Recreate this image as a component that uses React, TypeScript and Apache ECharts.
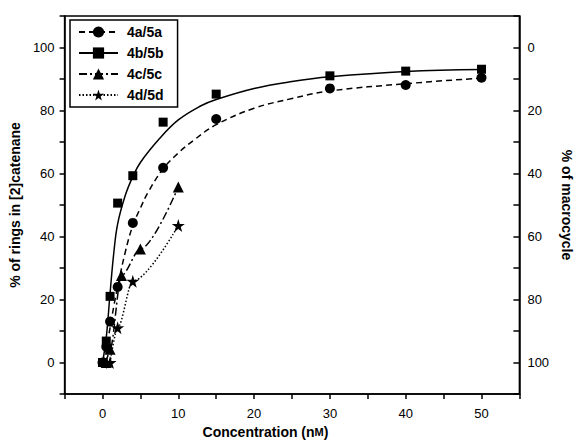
import React, { useEffect, useRef } from "react";
import * as echarts from "echarts";

// Measured points (concentration nM, % of rings in [2]catenane)
const conc4a = [0, 0.5, 1, 2, 4, 8, 15, 30, 40, 50];
const pct4a = [0, 5, 13, 24, 44.3, 61.8, 77.3, 87, 88.1, 90.4];
const conc4b = [0, 0.5, 1, 2, 4, 8, 15, 30, 40, 50];
const pct4b = [0, 6.8, 21, 50.6, 59.3, 76.3, 85.2, 91, 92.5, 93.1];
const conc4c = [0.5, 1, 2.5, 5, 10];
const pct4c = [0, 4.2, 27.6, 36, 55.7];
const conc4d = [1, 2, 4, 10];
const pct4d = [0, 11, 25.8, 43.5];

// Fitted curves
const fitConc4a = [0, 0.5, 1, 1.5, 2, 3, 4, 5, 6, 8, 10, 12, 15, 20, 25, 30, 40, 50];
const fitPct4a = [0, 5, 11, 18, 24, 35, 43.5, 49, 54, 61.5, 66.5, 70.5, 75.5, 80.7, 83.8, 86.2, 88.5, 90.3];
const fitConc4b = [0, 0.5, 1, 1.5, 2, 3, 4, 5, 7.5, 10, 13, 15, 20, 25, 30, 40, 50];
const fitPct4b = [0, 8, 22, 35, 44, 53, 59, 63.5, 71, 77, 81.5, 83.5, 87, 89.2, 90.7, 92.4, 93];

const seriesNames = ["4a/5a", "4b/5b", "4c/5c", "4d/5d"];
const xTitle = "Concentration (n{sc|M})";
const yLeftTitle = "% of rings in [2]catenane";
const yRightTitle = "% of macrocycle";

const STAR = "path://M50,0 L61,35 L98,35 L68,57 L79,91 L50,70 L21,91 L32,57 L2,35 L39,35 Z";
const FONT = "'Liberation Sans', Arial, sans-serif";

const pts = (xs: number[], ys: number[]) => xs.map((x, i) => [x, ys[i]]);

export default function App() {
  const ref = useRef<HTMLDivElement>(null);
  useEffect(() => {
    const chart = echarts.init(ref.current!, null, { renderer: "svg" });
    const black = "#000";
    const axisCommon = {
      type: "value" as const,
      splitLine: { show: false },
      axisLine: { show: true, onZero: false, lineStyle: { color: black, width: 1.5 } },
      axisTick: { show: true, length: 5, lineStyle: { color: black, width: 1.5 } },
    };
    const yFormatter = (v: number) => (v % 20 === 0 && v >= 0 && v <= 100 ? String(v) : "");
    const mark = { color: black, opacity: 1 };
    chart.setOption({
      animation: false,
      backgroundColor: "#fff",
      textStyle: { fontFamily: FONT },
      grid: {
        left: 63, right: 48, top: 16, bottom: 50,
        show: true, borderColor: black, borderWidth: 1.5, backgroundColor: "transparent",
      },
      legend: {
        data: seriesNames,
        orient: "vertical",
        left: 70,
        top: 20,
        padding: [5, 14, 5, 8],
        itemGap: 7,
        itemWidth: 39,
        itemHeight: 14,
        borderColor: black,
        borderWidth: 1.5,
        backgroundColor: "#fff",
        textStyle: { fontFamily: FONT, fontSize: 14, fontWeight: "bold", color: black, padding: [0, 0, 0, 4] },
      },
      xAxis: {
        ...axisCommon,
        min: -5, max: 55, interval: 5,
        position: "bottom",
        axisLabel: {
          formatter: (v: number) => (v % 10 === 0 ? String(v) : ""),
          margin: 13, fontSize: 13, color: black, fontFamily: FONT,
        },
        name: xTitle,
        nameLocation: "middle",
        nameGap: 27,
        nameTextStyle: {
          fontFamily: FONT, fontSize: 14, fontWeight: "bold", color: black,
          padding: [0, 53, 0, 0],
          rich: { sc: { fontFamily: FONT, fontSize: 11, fontWeight: "bold", color: black } },
        },
      },
      yAxis: [
        {
          ...axisCommon,
          position: "left",
          min: -10, max: 110, interval: 10,
          axisLabel: { formatter: yFormatter, margin: 10, fontSize: 13, color: black, fontFamily: FONT },
          name: yLeftTitle,
          nameLocation: "middle",
          nameRotate: 90,
          nameGap: 40,
          nameTextStyle: { fontFamily: FONT, fontSize: 14, fontWeight: "bold", color: black },
        },
        {
          ...axisCommon,
          position: "right",
          inverse: true,
          min: -10, max: 110, interval: 10,
          axisTick: { show: true, inside: true, length: 6, lineStyle: { color: black, width: 1.5 } },
          axisLabel: { formatter: yFormatter, margin: 8, fontSize: 13, color: black, fontFamily: FONT },
          name: yRightTitle,
          nameLocation: "middle",
          nameRotate: -90,
          nameGap: 33,
          nameTextStyle: { fontFamily: FONT, fontSize: 14, fontWeight: "bold", color: black },
        },
      ],
      series: [
        {
          type: "line", name: seriesNames[0], data: pts(fitConc4a, fitPct4a),
          smooth: 0.4, symbol: "circle", symbolSize: 10, showSymbol: false,
          lineStyle: { color: black, width: 1.5, type: [6, 4] }, itemStyle: mark, z: 2,
        },
        {
          type: "line", name: seriesNames[1], data: pts(fitConc4b, fitPct4b),
          smooth: 0.4, symbol: "rect", symbolSize: 9, showSymbol: false,
          lineStyle: { color: black, width: 1.5 }, itemStyle: mark, z: 2,
        },
        {
          type: "line", name: seriesNames[2], data: pts(conc4c, pct4c),
          smooth: 0.3, smoothMonotone: "x", symbol: "triangle", symbolSize: 11,
          lineStyle: { color: black, width: 1.5, type: [8, 3, 2, 3] }, itemStyle: mark, z: 3,
        },
        {
          type: "line", name: seriesNames[3], data: pts(conc4d, pct4d),
          smooth: 0.3, smoothMonotone: "x", symbol: STAR, symbolSize: 13,
          lineStyle: { color: black, width: 1.5, type: [1.5, 2] }, itemStyle: mark, z: 3,
        },
        {
          type: "scatter", name: seriesNames[0], data: pts(conc4a, pct4a),
          symbol: "circle", symbolSize: 10, itemStyle: mark, z: 4,
        },
        {
          type: "scatter", name: seriesNames[1], data: pts(conc4b, pct4b),
          symbol: "rect", symbolSize: 9, itemStyle: mark, z: 4,
        },
      ],
    });
    return () => chart.dispose();
  }, []);
  return (
    <div
      ref={ref}
      style={{ position: "fixed", left: 0, top: 0, width: 582, height: 444, background: "#fff" }}
    />
  );
}
